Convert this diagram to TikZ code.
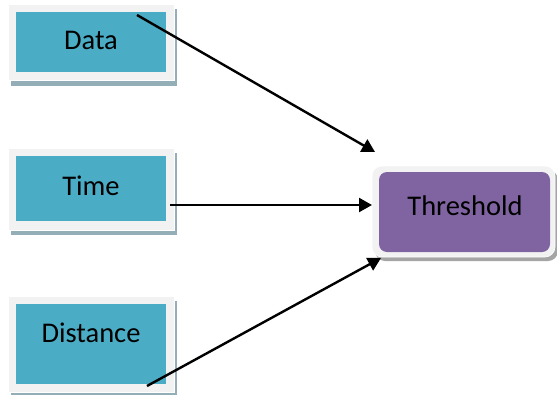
\documentclass[tikz,border=0pt]{standalone}
\usepackage{fontspec}
\setmainfont{Carlito}
\usetikzlibrary{arrows.meta,calc}
\definecolor{teal}{HTML}{4BACC6}
\definecolor{tealshadow}{HTML}{93AEB6}
\definecolor{purp}{HTML}{8064A2}
\definecolor{frame}{HTML}{F2F2F2}
\definecolor{graysh}{HTML}{A5A5A5}
\tikzset{
  framebox/.style={fill=frame, draw=white, line width=0.6pt},
  innerbox/.style={fill=teal, draw=none},
  lbl/.style={font=\fontsize{28.5}{32}\selectfont, anchor=base, inner sep=0pt},
  conn/.style={line width=2.4pt, -{Triangle[length=13pt,width=14pt]}},
}
\begin{document}
\begin{tikzpicture}[x=1pt,y=-1pt]
\useasboundingbox (0,0) rectangle (557,394);
\fill[white] (0,0) rectangle (557,394);
% Data
\fill[tealshadow] (11,9) rectangle (177,86);
\path[framebox] (8,4) rectangle (174,80);
\node[innerbox, minimum width=150pt, minimum height=60pt, inner sep=0pt] (data) at (91,42) {};
\node[lbl] (datat) at (91,49) {Data};
% Time
\fill[tealshadow] (11,153) rectangle (177,235);
\path[framebox] (8,148) rectangle (174,230);
\node[innerbox, minimum width=150pt, minimum height=65pt, inner sep=0pt] (time) at (91,188.5) {};
\node[lbl] (timet) at (91,195) {Time};
% Distance
\fill[tealshadow] (11,301) rectangle (177,397);
\path[framebox] (8,296) rectangle (174,392);
\node[innerbox, minimum width=150pt, minimum height=80pt, inner sep=0pt] (dist) at (91,344) {};
\node[lbl] (distt) at (91,342) {Distance};
% Threshold
\fill[graysh, rounded corners=10pt] (375,170) rectangle (558,261);
\path[framebox, rounded corners=10pt] (372,166) rectangle (555,257);
\node[fill=purp, rounded corners=8pt, minimum width=171pt, minimum height=80pt, inner sep=0pt] (thr) at (464.5,212) {};
\node[lbl] (thrt) at (465,215) {Threshold};
% connectors
\coordinate (a1) at (137,15);
\coordinate (a2) at (375,152);
\coordinate (b1) at (170,205);
\coordinate (b2) at (372,205);
\coordinate (c1) at (147,386);
\coordinate (c2) at (381,258);
\draw[conn] (a1) -- (a2);
\draw[conn] (b1) -- (b2);
\draw[conn] (c1) -- (c2);
\end{tikzpicture}
\end{document}
